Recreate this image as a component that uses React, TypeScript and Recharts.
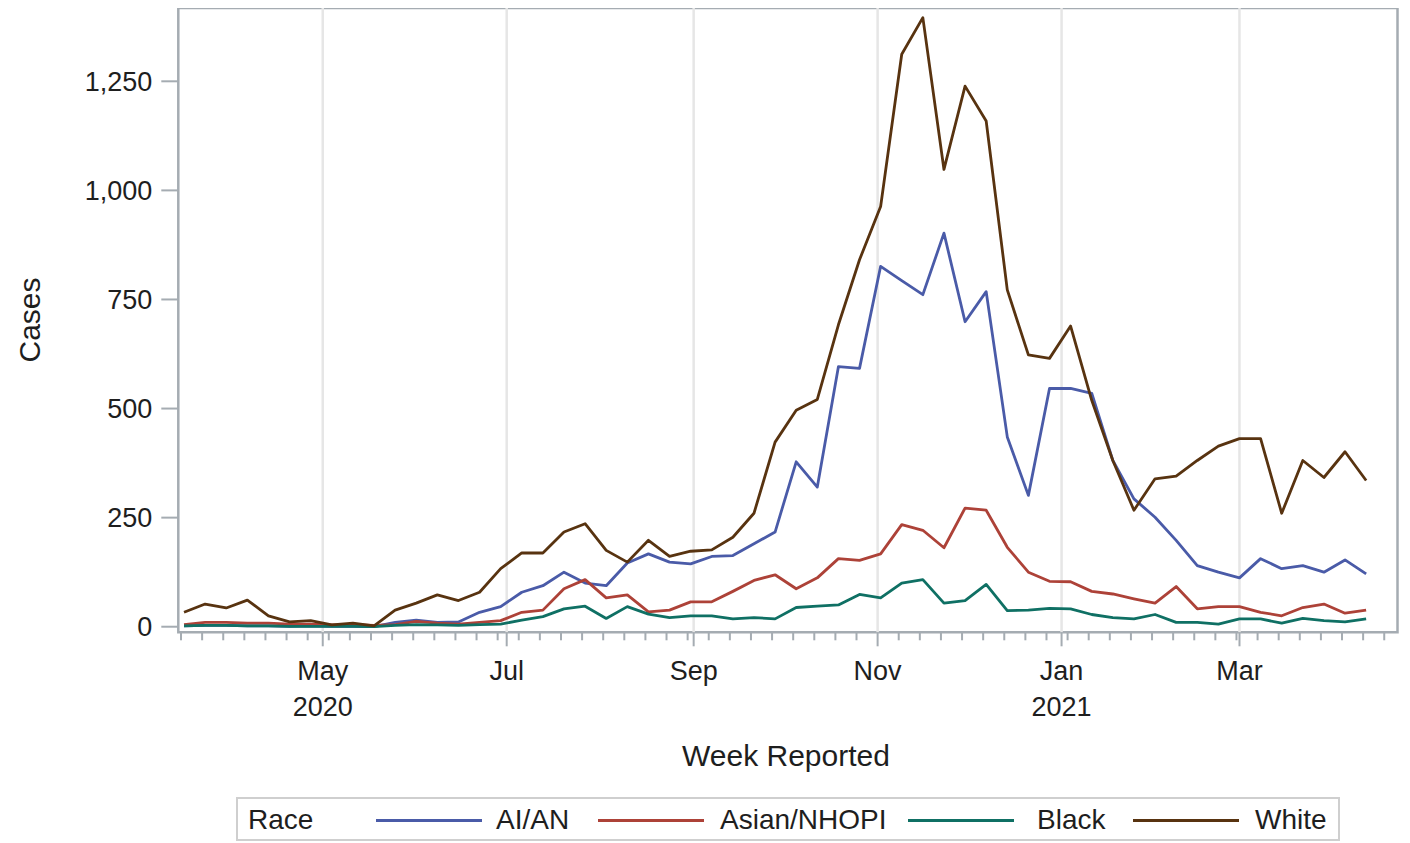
import { LineChart, Line, XAxis, YAxis, ReferenceLine, ReferenceArea } from "recharts";

// weekly case counts, first week starting Sun 15 Mar 2020, last week 11 Apr 2021
const aian = [
  2, 3, 3, 2, 2, 1, 2, 1, 1, 0,
  10, 15, 10, 11, 33, 46, 79, 94, 125, 100,
  94, 146, 167, 148, 144, 161, 163, 190, 217, 378,
  320, 596, 592, 826, 793, 761, 902, 699, 768, 435,
  301, 546, 546, 535, 381, 293, 251, 198, 140, 125,
  112, 156, 133, 140, 125, 153, 121,
];
const asianNhopi = [
  5, 10, 10, 8, 8, 6, 6, 4, 5, 3,
  5, 12, 8, 6, 10, 14, 33, 38, 87, 108,
  66, 73, 34, 38, 57, 57, 81, 106, 119, 87,
  112, 156, 152, 167, 234, 221, 181, 272, 267, 182,
  125, 104, 103, 81, 75, 64, 54, 92, 41, 46,
  46, 33, 25, 44, 52, 31, 38,
];
const black = [
  2, 3, 3, 2, 2, 1, 1, 1, 1, 0,
  3, 5, 4, 3, 5, 6, 15, 23, 41, 47,
  19, 46, 29, 21, 25, 25, 18, 21, 18, 44,
  47, 50, 74, 66, 100, 108, 54, 60, 97, 37,
  38, 42, 41, 28, 21, 18, 28, 10, 10, 6,
  18, 18, 8, 19, 14, 11, 18,
];
const white = [
  33, 52, 43, 61, 25, 11, 14, 4, 8, 2,
  38, 54, 73, 60, 79, 133, 169, 169, 217, 236,
  175, 148, 198, 161, 173, 176, 205, 260, 423, 496,
  521, 692, 841, 963, 1312, 1396, 1048, 1239, 1159, 772,
  623, 615, 689, 519, 381, 267, 339, 345, 381, 414,
  431, 431, 260, 381, 342, 401, 335,
];

// x axis in days since 15 Mar 2020
const monthTickDays = [47, 108, 170, 231, 292, 351];
const monthLabels = ["May", "Jul", "Sep", "Nov", "Jan", "Mar"];
const yearLabels = ["2020", "", "", "", "2021", ""];
const yTicks = [0, 250, 500, 750, 1000, 1250];

const FRAME = "#a5acb2";
const TEXT = "#1e1e1e";
const FONT = '"Liberation Sans", Arial, sans-serif';

const series = [
  { key: "aian", name: "AI/AN", color: "#4a5ba8" },
  { key: "asian", name: "Asian/NHOPI", color: "#ad4238" },
  { key: "black", name: "Black", color: "#0f7064" },
  { key: "white", name: "White", color: "#583310" },
];

// each week is drawn one day after its Sunday tick
const data = white.map((_, i) => ({
  day: i * 7 + 1,
  aian: aian[i],
  asian: asianNhopi[i],
  black: black[i],
  white: white[i],
}));

const weekTicks = Array.from({ length: 58 }, (_, i) => i * 7).filter(
  (d) => !monthTickDays.includes(d)
);
const xTicks = [...weekTicks, ...monthTickDays].sort((a, b) => a - b);

function WeekTick(props: any) {
  const { x, y, payload } = props;
  const idx = monthTickDays.indexOf(payload.value);
  if (idx < 0) {
    return <line x1={x} x2={x} y1={y} y2={y + 8} stroke={FRAME} strokeWidth={2} />;
  }
  return (
    <g>
      <line x1={x} x2={x} y1={y} y2={y + 14} stroke={FRAME} strokeWidth={2} />
      <text x={x} y={y + 48} textAnchor="middle" fontSize={27} fill={TEXT} fontFamily={FONT}>
        {monthLabels[idx]}
      </text>
      {yearLabels[idx] && (
        <text x={x} y={y + 84} textAnchor="middle" fontSize={27} fill={TEXT} fontFamily={FONT}>
          {yearLabels[idx]}
        </text>
      )}
    </g>
  );
}

const legendItems = [
  { line: 140, text: 260 },
  { line: 362, text: 484 },
  { line: 672, text: 801 },
  { line: 897, text: 1019 },
];

export default function App() {
  return (
    <div style={{ position: "relative", width: 1402, height: 835, fontFamily: FONT, color: TEXT }}>
      <div style={{ position: "absolute", left: 0, top: -4 }}>
        <LineChart
          width={1402}
          height={740}
          data={data}
          margin={{ top: 4, right: 12.5, bottom: 0, left: 0 }}
        >
          {monthTickDays.map((d) => (
            <ReferenceLine key={d} x={d} stroke="#e6e6e6" strokeWidth={2.5} />
          ))}
          <XAxis
            type="number"
            dataKey="day"
            domain={[-0.9, 403.4]}
            allowDataOverflow
            ticks={xTicks}
            interval={0}
            tick={(p: any) => <WeekTick {...p} />}
            tickLine={false}
            axisLine={false}
            tickSize={0}
            tickMargin={0}
            height={111.7}
          />
          <YAxis
            type="number"
            domain={[-12.8, 1418]}
            allowDataOverflow
            ticks={yTicks}
            interval={0}
            tickFormatter={(v: number) => v.toLocaleString("en-US")}
            tick={{ fontSize: 27, fill: TEXT, fontFamily: FONT }}
            tickSize={17}
            tickMargin={9}
            tickLine={{ stroke: FRAME, strokeWidth: 2 }}
            axisLine={false}
            width={170.3}
          />
          {series.map((s) => (
            <Line
              key={s.key}
              type="linear"
              dataKey={s.key}
              name={s.name}
              stroke={s.color}
              strokeWidth={2.8}
              strokeLinejoin="round"
              dot={false}
              activeDot={false}
              isAnimationActive={false}
            />
          ))}
          <ReferenceArea
            x1={-0.9}
            x2={403.4}
            y1={-12.8}
            y2={1418}
            fill="none"
            stroke={FRAME}
            strokeWidth={2.5}
            ifOverflow="visible"
          />
        </LineChart>
      </div>

      <div
        style={{
          position: "absolute",
          left: -78,
          top: 297,
          width: 200,
          height: 30,
          lineHeight: "30px",
          fontSize: 30,
          textAlign: "center",
          transform: "rotate(-90deg)",
        }}
      >
        Cases
      </div>
      <div
        style={{
          position: "absolute",
          left: 578,
          top: 733,
          width: 400,
          lineHeight: "30px",
          fontSize: 30,
          textAlign: "center",
        }}
      >
        Week Reported
      </div>

      <div
        style={{
          position: "absolute",
          left: 228,
          top: 789,
          width: 1104,
          height: 44,
          boxSizing: "border-box",
          border: "2px solid #cfcfcf",
          fontSize: 28,
        }}
      >
        <div style={{ position: "absolute", left: 10, top: 6, lineHeight: "30px" }}>Race</div>
        {series.map((s, i) => (
          <div key={s.key}>
            <div
              style={{
                position: "absolute",
                left: legendItems[i].line - 2,
                top: 20,
                width: 106,
                height: 3,
                background: s.color,
              }}
            />
            <div
              style={{
                position: "absolute",
                left: legendItems[i].text - 2,
                top: 6,
                lineHeight: "30px",
              }}
            >
              {s.name}
            </div>
          </div>
        ))}
      </div>
    </div>
  );
}
